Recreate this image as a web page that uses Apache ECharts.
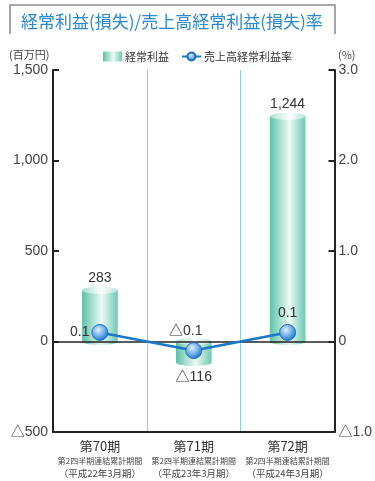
<!DOCTYPE html>
<html>
<head>
<meta charset="utf-8">
<script src="https://cdn.jsdelivr.net/npm/echarts@6/dist/echarts.min.js"></script>
<style>
html,body{margin:0;padding:0;background:#fff;}
#main{width:375px;height:481px;}
</style>
</head>
<body>
<div id="main"></div>
<script>
// データ
var periods = ['第70期', '第71期', '第72期'];
var periodSub = ['平成22年3月期', '平成23年3月期', '平成24年3月期'];
var profit = [283, -116, 1244];        // 経常利益（百万円）
var ratio = [0.1, -0.1, 0.1];          // 売上高経常利益率（%）
var leftTicks = [-500, 0, 500, 1000, 1500];
var rightTicks = [-1.0, 0, 1.0, 2.0, 3.0];

var FONT = "'Liberation Sans', 'Noto Sans CJK JP', sans-serif";
var CJK = "'Noto Sans CJK JP', sans-serif";

function fmtNum(v) {
    return (v < 0 ? '△' : '') + Math.abs(v).toLocaleString('en-US');
}
function fmtPct(v) {
    if (v === 0) return '0';
    return (v < 0 ? '△' : '') + Math.abs(v).toFixed(1);
}

var barGrad = new echarts.graphic.LinearGradient(0, 0, 1, 0, [
    {offset: 0, color: '#5cc2a6'},
    {offset: 0.55, color: '#eef9f5'},
    {offset: 1, color: '#6bc9b0'}
]);
var capGrad = new echarts.graphic.LinearGradient(0, 0, 1, 0, [
    {offset: 0, color: '#a8e0d0'},
    {offset: 0.55, color: '#ffffff'},
    {offset: 1, color: '#b5e5d8'}
]);

var myChart = echarts.init(document.getElementById('main'));

var option = {
    animation: false,
    textStyle: {fontFamily: FONT},
    grid: {left: 53, right: 40, top: 70, bottom: 49},
    legend: {
        left: 98,
        top: 46,
        itemWidth: 19,
        itemHeight: 10,
        itemGap: 12,
        textStyle: {fontSize: 11, color: '#333', fontFamily: CJK, padding: [0, 0, 0, -2]},
        data: [
            {name: '経常利益', icon: 'rect', itemStyle: {color: barGrad}},
            {name: '売上高経常利益率'}
        ]
    },
    graphic: [
        {
            type: 'polyline',
            shape: {points: [[10, 34], [10, 5], [335, 5], [335, 34]]},
            style: {stroke: '#8a8a8a', lineWidth: 1.5, fill: null}
        },
        {
            type: 'text', left: 21, top: 13,
            style: {text: '経常利益(損失)/売上高経常利益(損失)率', fill: '#2a88d0', fontSize: 17, fontFamily: CJK}
        },
        {
            type: 'text', left: 9, top: 49,
            style: {text: '(百万円)', fill: '#444', fontSize: 11, fontFamily: CJK}
        },
        {
            type: 'text', left: 338, top: 49,
            style: {text: '(%)', fill: '#444', fontSize: 11, fontFamily: CJK}
        }
    ],
    xAxis: {
        type: 'category',
        data: periods,
        boundaryGap: true,
        axisLine: {onZero: false, lineStyle: {color: '#222', width: 2}},
        axisTick: {show: false},
        splitLine: {show: true, lineStyle: {color: '#8fd4c6', width: 1}},
        axisLabel: {
            margin: 6,
            interval: 0,
            formatter: function (v, i) {
                return '{a|' + v + '}\n{b|第2四半期連結累計期間}\n{c|（' + periodSub[i] + '）}';
            },
            rich: {
                a: {fontSize: 13, color: '#333', fontFamily: CJK, lineHeight: 16},
                b: {fontSize: 8, color: '#444', fontFamily: CJK, lineHeight: 13},
                c: {fontSize: 9.5, color: '#444', fontFamily: CJK, lineHeight: 13}
            }
        }
    },
    yAxis: [
        {
            type: 'value',
            min: leftTicks[0], max: leftTicks[leftTicks.length - 1], interval: 500,
            axisLine: {show: true, lineStyle: {color: '#222', width: 2}},
            axisTick: {show: true, inside: true, length: 6, lineStyle: {color: '#222', width: 2}},
            splitLine: {show: false},
            axisLabel: {fontSize: 14, color: '#444', margin: 5, formatter: fmtNum}
        },
        {
            type: 'value',
            min: rightTicks[0], max: rightTicks[rightTicks.length - 1], interval: 1,
            axisLine: {show: true, lineStyle: {color: '#222', width: 2}},
            axisTick: {show: true, inside: true, length: 6, lineStyle: {color: '#222', width: 2}},
            splitLine: {show: false},
            axisLabel: {fontSize: 14, color: '#444', margin: 4, formatter: fmtPct}
        }
    ],
    series: [
        {
            name: '経常利益',
            type: 'custom',
            yAxisIndex: 0,
            encode: {x: 0, y: 1},
            data: profit.map(function (v, i) { return [i, v]; }),
            renderItem: function (params, api) {
                var v = api.value(1);
                var top = api.coord([api.value(0), Math.max(v, 0)]);
                var bot = api.coord([api.value(0), Math.min(v, 0)]);
                var w = api.size([1, 0])[0] * 0.38;
                var cx = top[0];
                var sy = 0.2;
                var ry = w / 2 * sy;
                var lab = v >= 0
                    ? {x: cx, y: top[1] - ry - 2, va: 'bottom'}
                    : {x: cx, y: bot[1] + ry + 4, va: 'top'};
                return {
                    type: 'group',
                    children: [
                        {type: 'circle', x: cx, y: bot[1], scaleY: sy, shape: {cx: 0, cy: 0, r: w / 2}, style: {fill: barGrad}},
                        {type: 'rect', shape: {x: cx - w / 2, y: top[1], width: w, height: bot[1] - top[1]}, style: {fill: barGrad}},
                        {type: 'circle', x: cx, y: top[1], scaleY: sy, shape: {cx: 0, cy: 0, r: w / 2}, style: {fill: capGrad}},
                        {type: 'text', x: lab.x, y: lab.y, style: {text: fmtNum(v), fill: '#333', fontSize: 14, fontFamily: FONT, align: 'center', verticalAlign: lab.va}}
                    ]
                };
            }
        },
        {
            name: '売上高経常利益率',
            type: 'line',
            yAxisIndex: 1,
            z: 5,
            symbol: 'circle',
            symbolSize: 16,
            lineStyle: {color: '#1a78c6', width: 2.5},
            itemStyle: {
                color: new echarts.graphic.RadialGradient(0.4, 0.35, 0.6, [
                    {offset: 0, color: '#e4f1fc'},
                    {offset: 0.6, color: '#6fb0ea'},
                    {offset: 1, color: '#2c7fd0'}
                ]),
                borderColor: '#1f6fbd',
                borderWidth: 1
            },
            label: {
                show: true,
                fontSize: 14,
                color: '#333',
                formatter: function (p) { return fmtPct(p.value); }
            },
            // 各点のラベル位置
            data: ratio.map(function (v, i) {
                var pos = [
                    {position: 'left', distance: 2},
                    {position: 'top', offset: [-8, 0], distance: 4},
                    {position: 'top', distance: 4}
                ][i];
                return {value: v, label: pos};
            }),
            markLine: {
                silent: true,
                symbol: 'none',
                label: {show: false},
                lineStyle: {color: '#222', width: 1.5, type: 'solid'},
                data: [{yAxis: 0}]
            }
        }
    ]
};

myChart.setOption(option);
</script>
</body>
</html>
